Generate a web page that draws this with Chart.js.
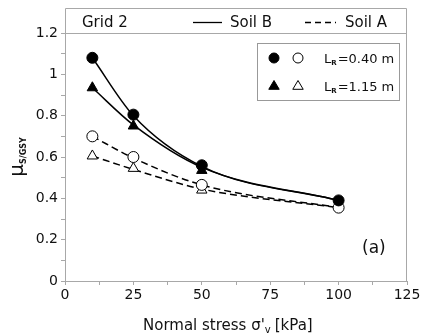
<!DOCTYPE html>
<html>
<head>
<meta charset="utf-8">
<script src="https://cdn.jsdelivr.net/npm/chart.js@4.4.0/dist/chart.umd.min.js"></script>
<style>
  html, body { margin: 0; padding: 0; background: #fff; }
  #wrap { width: 424px; height: 333px; }
</style>
</head>
<body>
<div id="wrap"><canvas id="graph"></canvas></div>
<script>
const FONT = "'DejaVu Sans', Verdana, sans-serif";

// normal stress [kPa]
const stress = [10, 25, 50, 100];

// measured points (markers)
const soilB_040 = [1.08, 0.805, 0.56, 0.39];
const soilB_115 = [0.935, 0.75, 0.535, null];
const soilA_040 = [0.70, 0.60, 0.465, 0.355];
const soilA_115 = [0.605, 0.545, 0.44, null];

// fitted curves
const fitB_040 = [1.08, 0.80, 0.555, 0.39];
const fitB_115 = [0.935, 0.755, 0.55, 0.39];
const fitA_040 = [0.70, 0.595, 0.465, 0.355];
const fitA_115 = [0.605, 0.54, 0.445, 0.355];

const xTicks = [0, 25, 50, 75, 100, 125];
const yTicks = [0, 0.2, 0.4, 0.6, 0.8, 1, 1.2];

const toXY = arr => stress.map((x, i) => ({x: x, y: arr[i]})).filter(p => p.y !== null);

function markers(arr, style, filled) {
    return {
        data: toXY(arr),
        showLine: false,
        pointStyle: style,
        pointRadius: style === "triangle" ? 6 : 5.5,
        pointBorderWidth: 1,
        pointBorderColor: "#000",
        pointBackgroundColor: filled ? "#000" : "#fff",
        order: 0
    };
}

function curve(arr, dashed) {
    return {
        data: toXY(arr),
        borderColor: "#000",
        borderWidth: 1.5,
        borderDash: dashed ? [7, 4] : [],
        pointRadius: 0,
        cubicInterpolationMode: "monotone",
        fill: false,
        order: 1
    };
}

const grey = "#a8a8a8";

const decor = {
    id: "decor",
    afterDraw(chart) {
        const {ctx, chartArea: a} = chart;
        ctx.save();
        // frame with header strip
        ctx.strokeStyle = grey;
        ctx.lineWidth = 1;
        ctx.beginPath();
        ctx.moveTo(a.left + 0.5, a.top);
        ctx.lineTo(a.left + 0.5, 8.5);
        ctx.lineTo(a.right - 0.5, 8.5);
        ctx.lineTo(a.right - 0.5, a.bottom);
        ctx.moveTo(a.left, a.top + 0.5);
        ctx.lineTo(a.right, a.top + 0.5);
        ctx.stroke();

        // header
        ctx.fillStyle = "#111";
        ctx.textBaseline = "alphabetic";
        ctx.font = "15px " + FONT;
        ctx.fillText("Grid 2", 82, 27);
        ctx.fillText("Soil B", 230, 27);
        ctx.fillText("Soil A", 345, 27);
        ctx.strokeStyle = "#000";
        ctx.lineWidth = 1.3;
        ctx.beginPath();
        ctx.moveTo(193, 22.5); ctx.lineTo(222, 22.5);
        ctx.stroke();
        ctx.setLineDash([6, 4]);
        ctx.beginPath();
        ctx.moveTo(305, 22.5); ctx.lineTo(336, 22.5);
        ctx.stroke();
        ctx.setLineDash([]);

        // legend box
        ctx.strokeStyle = "#999";
        ctx.lineWidth = 1;
        ctx.strokeRect(257.5, 43.5, 142, 57);
        drawMark(ctx, "circle", true, 274, 58);
        drawMark(ctx, "circle", false, 298, 58);
        drawMark(ctx, "triangle", true, 274, 86);
        drawMark(ctx, "triangle", false, 298, 86);
        subText(ctx, "L", "R", "=0.40 m", 324, 63);
        subText(ctx, "L", "R", "=1.15 m", 324, 91);

        // panel label
        ctx.fillStyle = "#111";
        ctx.font = "17px " + FONT;
        ctx.fillText("(a)", 362, 253);

        // x axis title
        ctx.font = "15px " + FONT;
        let x = 143;
        const y = 330;
        const p1 = "Normal stress σ'";
        ctx.fillText(p1, x, y);
        x += ctx.measureText(p1).width;
        ctx.font = "10px " + FONT;
        ctx.fillText("v", x, y + 3);
        x += ctx.measureText("v").width + 4;
        ctx.font = "15px " + FONT;
        ctx.fillText("[kPa]", x, y);

        // y axis title
        ctx.translate(23, 157);
        ctx.rotate(-Math.PI / 2);
        ctx.font = "20px " + FONT;
        const mw = ctx.measureText("μ").width;
        ctx.font = "bold 8px " + FONT;
        const sw = ctx.measureText("S/GSY").width;
        const start = -(mw + sw) / 2;
        ctx.font = "20px " + FONT;
        ctx.fillText("μ", start, 0);
        ctx.font = "bold 8px " + FONT;
        ctx.fillText("S/GSY", start + mw, 3);
        ctx.restore();
    }
};

function drawMark(ctx, style, filled, x, y) {
    ctx.save();
    ctx.fillStyle = filled ? "#000" : "#fff";
    ctx.strokeStyle = "#000";
    ctx.lineWidth = 1;
    ctx.beginPath();
    if (style === "circle") {
        ctx.arc(x, y, 5, 0, Math.PI * 2);
    } else {
        const r = 5.5;
        ctx.moveTo(x, y - r);
        ctx.lineTo(x + r * 0.95, y + r * 0.6);
        ctx.lineTo(x - r * 0.95, y + r * 0.6);
        ctx.closePath();
    }
    ctx.fill();
    ctx.stroke();
    ctx.restore();
}

function subText(ctx, main, sub, rest, x, y) {
    ctx.fillStyle = "#111";
    ctx.font = "13px " + FONT;
    ctx.fillText(main, x, y);
    x += ctx.measureText(main).width;
    ctx.font = "bold 7px " + FONT;
    ctx.fillText(sub, x, y + 2);
    x += ctx.measureText(sub).width + 1;
    ctx.font = "13px " + FONT;
    ctx.fillText(rest, x, y);
}

const canvas = document.querySelector("#graph");
new Chart(canvas, {
    type: "line",
    data: {
        datasets: [
            curve(fitB_040, false),
            curve(fitB_115, false),
            curve(fitA_040, true),
            curve(fitA_115, true),
            markers(soilB_040, "circle", true),
            markers(soilB_115, "triangle", true),
            markers(soilA_040, "circle", false),
            markers(soilA_115, "triangle", false)
        ]
    },
    options: {
        responsive: true,
        maintainAspectRatio: false,
        animation: false,
        layout: {padding: {left: 0, top: 33, right: 17, bottom: 0}},
        plugins: {legend: {display: false}, tooltip: {enabled: false}},
        scales: {
            x: {
                type: "linear",
                min: 0,
                max: 125,
                afterFit: s => { s.height = 52; },
                ticks: {
                    stepSize: 12.5,
                    autoSkip: false,
                    maxRotation: 0,
                    color: "#111",
                    font: {family: FONT, size: 14},
                    padding: 2,
                    callback: v => xTicks.includes(v) ? String(v) : ""
                },
                grid: {drawOnChartArea: false, color: grey, tickLength: 4},
                border: {color: grey}
            },
            y: {
                min: 0,
                max: 1.2,
                afterFit: s => { s.width = 65; },
                ticks: {
                    stepSize: 0.1,
                    autoSkip: false,
                    color: "#111",
                    font: {family: FONT, size: 14},
                    padding: 3,
                    callback: v => {
                        const t = yTicks.find(k => Math.abs(k - v) < 1e-6);
                        return t === undefined ? "" : String(t);
                    }
                },
                grid: {drawOnChartArea: false, color: grey, tickLength: 4},
                border: {color: grey}
            }
        }
    },
    plugins: [decor]
});
</script>
</body>
</html>
